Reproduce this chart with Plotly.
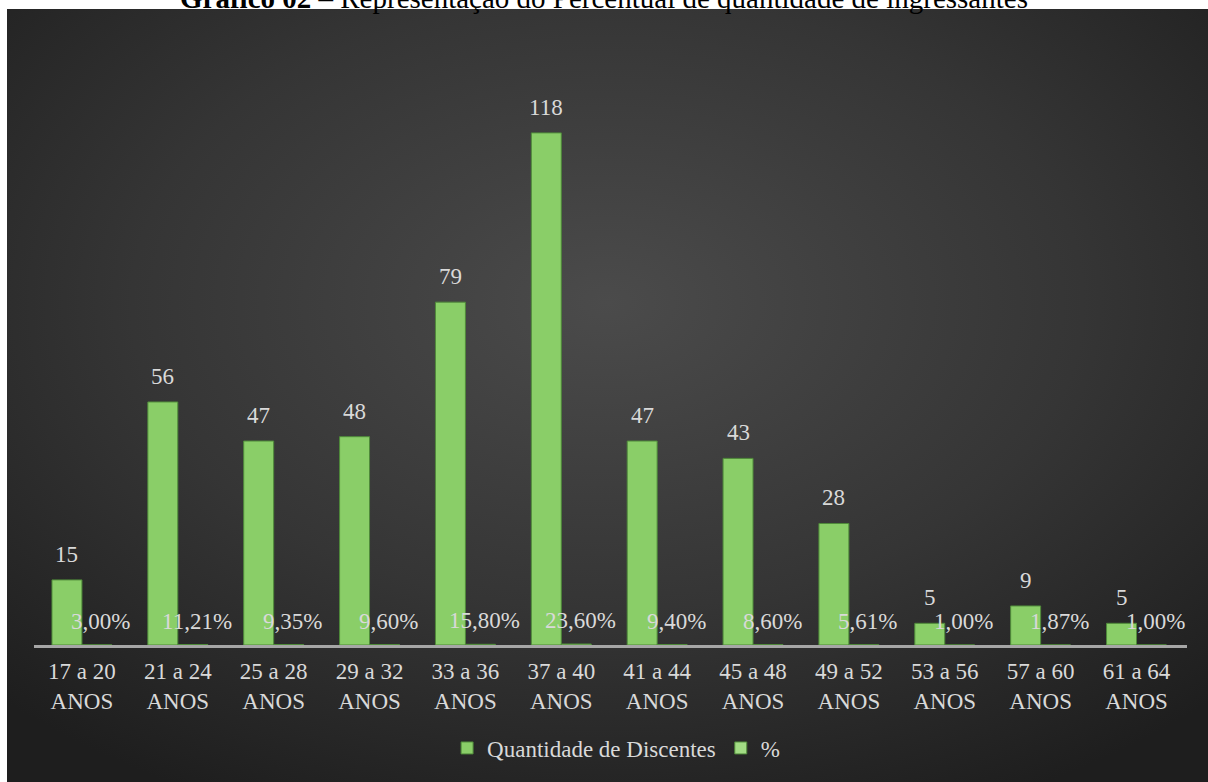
import base64
import plotly.graph_objects as go

categories = ["17 a 20<br>ANOS", "21 a 24<br>ANOS", "25 a 28<br>ANOS", "29 a 32<br>ANOS",
              "33 a 36<br>ANOS", "37 a 40<br>ANOS", "41 a 44<br>ANOS", "45 a 48<br>ANOS",
              "49 a 52<br>ANOS", "53 a 56<br>ANOS", "57 a 60<br>ANOS", "61 a 64<br>ANOS"]
quantidade = [15, 56, 47, 48, 79, 118, 47, 43, 28, 5, 9, 5]
percentual = [0.0300, 0.1121, 0.0935, 0.0960, 0.1580, 0.2360, 0.0940, 0.0860, 0.0561, 0.0100, 0.0187, 0.0100]

pct_text = [f"{v*100:.2f}%".replace(".", ",") for v in percentual]

FONT = "Liberation Serif"
TXT = "#d9d9d9"

svg = ("<svg xmlns='http://www.w3.org/2000/svg' width='1201' height='773' viewBox='0 0 1201 773' "
       "preserveAspectRatio='none'><defs><radialGradient id='g' cx='50%' cy='38%' r='72%'>"
       "<stop offset='0' stop-color='#4b4b4b'/><stop offset='0.55' stop-color='#353535'/>"
       "<stop offset='1' stop-color='#1e1e1e'/></radialGradient></defs>"
       "<rect width='1201' height='773' fill='url(#g)'/></svg>")
src = "data:image/svg+xml;base64," + base64.b64encode(svg.encode()).decode()

fig = go.Figure()
fig.add_trace(go.Bar(name="Quantidade de Discentes", x=categories, y=quantidade,
                     marker=dict(color="#8ace68", line=dict(color="#4f8a3a", width=1))))
fig.add_trace(go.Bar(name="%", x=categories, y=percentual,
                     marker=dict(color="#a2dc84", line=dict(color="#4f8a3a", width=1))))

annotations = []
for c, q in zip(categories, quantidade):
    annotations.append(dict(x=c, y=q, xref="x", yref="y", text=str(q), showarrow=False,
                            xshift=-15, yanchor="bottom", yshift=11,
                            font=dict(family=FONT, size=23, color=TXT)))
for c, p, t in zip(categories, percentual, pct_text):
    annotations.append(dict(x=c, y=p, xref="x", yref="y", text=t, showarrow=False,
                            xshift=19, yanchor="bottom", yshift=9,
                            font=dict(family=FONT, size=23, color=TXT)))
annotations.append(dict(x=0.5, y=1 + 2 / 782, xref="paper", yref="paper", yanchor="middle",
                        showarrow=False,
                        text="<b>Gráfico 02</b> – Representação do Percentual de quantidade de ingressantes",
                        font=dict(family=FONT, size=29, color="#000000")))

fig.update_layout(
    width=1208, height=782,
    margin=dict(l=0, r=0, t=0, b=0),
    paper_bgcolor="#ffffff", plot_bgcolor="rgba(0,0,0,0)",
    barmode="group", bargap=0.375, bargroupgap=0,
    font=dict(family=FONT, color=TXT, size=21),
    images=[dict(source=src, xref="paper", yref="paper", x=7 / 1208, y=1 - 9 / 782,
                 sizex=(1208 - 7) / 1208, sizey=(782 - 9) / 782, xanchor="left", yanchor="top",
                 sizing="stretch", layer="below")],
    xaxis=dict(domain=[34 / 1208, 1187 / 1208], showline=True, linecolor="#a6a6a6", linewidth=3,
               showgrid=False, ticks="", ticklabelstandoff=3,
               tickfont=dict(family=FONT, size=23, color=TXT)),
    yaxis=dict(domain=[(782 - 645) / 782, 1 - 37.4 / 782], range=[0, 140], visible=False,
               showgrid=False, zeroline=False),
    legend=dict(orientation="h", x=0.51, xanchor="center", y=1 - 748 / 782, yanchor="middle",
                font=dict(family=FONT, size=23, color=TXT), bgcolor="rgba(0,0,0,0)",
                itemwidth=30),
    annotations=annotations,
    showlegend=True,
)

fig.write_html("out.html")
